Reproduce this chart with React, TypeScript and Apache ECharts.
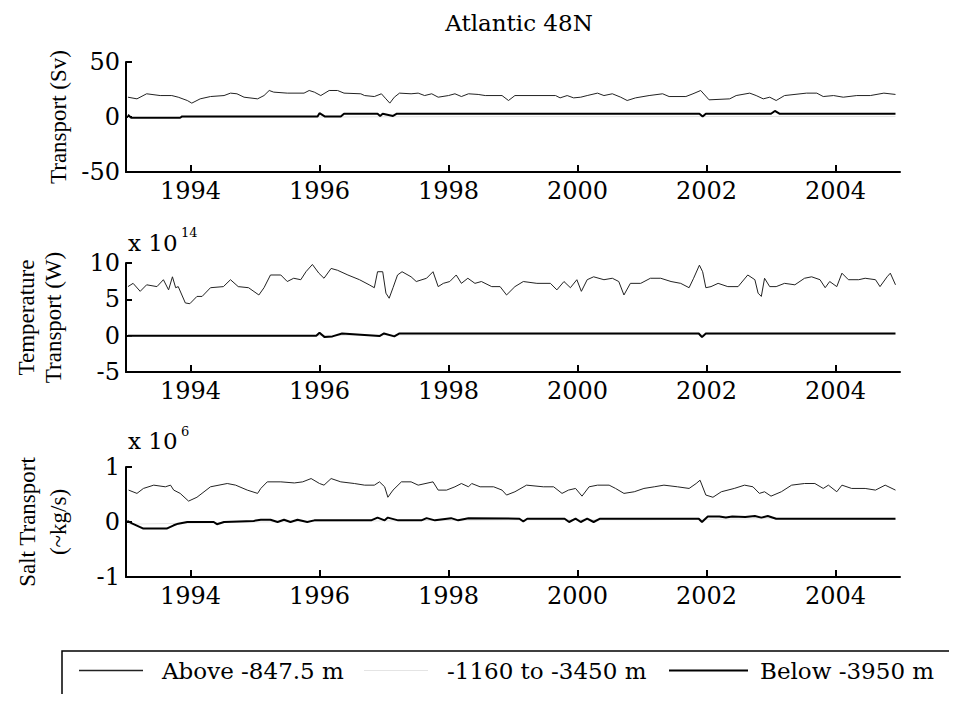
import React, { useEffect, useRef } from "react";
import * as echarts from "echarts";

// ---------- Data ----------
const YEAR_TICKS = [1994, 1996, 1998, 2000, 2002, 2004];
const NAME_ABOVE = "Above -847.5 m";
const NAME_MID = "-1160 to -3450 m";
const NAME_BELOW = "Below -3950 m";

// Panel 1: Transport (Sv)
const volAboveT = [1993.03, 1993.17, 1993.32, 1993.53, 1993.71, 1993.81, 1993.95, 1994.02, 1994.15, 1994.31, 1994.52, 1994.62, 1994.72, 1994.83, 1995.04, 1995.14, 1995.22, 1995.29, 1995.5, 1995.76, 1995.84, 1995.92, 1996.02, 1996.15, 1996.28, 1996.38, 1996.64, 1996.7, 1996.85, 1996.96, 1997.03, 1997.09, 1997.16, 1997.24, 1997.42, 1997.53, 1997.63, 1997.74, 1997.84, 1998.0, 1998.1, 1998.2, 1998.31, 1998.46, 1998.57, 1998.83, 1998.93, 1999.03, 1999.66, 1999.73, 1999.84, 1999.94, 2000.05, 2000.15, 2000.31, 2000.41, 2000.54, 2000.67, 2000.77, 2000.9, 2001.11, 2001.32, 2001.42, 2001.68, 2001.79, 2001.91, 2002.04, 2002.36, 2002.46, 2002.67, 2002.77, 2002.88, 2002.98, 2003.08, 2003.21, 2003.55, 2003.71, 2003.81, 2003.97, 2004.12, 2004.33, 2004.54, 2004.75, 2004.93];
const volAboveV = [18.0, 16.5, 21.1, 19.5, 19.5, 18.0, 15.0, 12.6, 16.5, 18.6, 19.5, 21.7, 21.1, 18.0, 16.5, 19.5, 24.1, 22.6, 21.7, 21.7, 24.1, 22.6, 19.5, 24.1, 24.1, 21.7, 21.1, 19.5, 18.6, 21.1, 16.5, 12.6, 18.0, 21.7, 21.1, 21.7, 19.5, 21.1, 18.0, 19.5, 21.1, 18.6, 21.1, 20.5, 19.5, 19.5, 15.0, 19.5, 19.5, 17.4, 19.5, 17.4, 18.0, 19.5, 21.7, 19.5, 21.1, 18.0, 15.0, 17.4, 19.5, 21.1, 18.6, 18.6, 21.1, 24.1, 15.6, 16.5, 19.5, 21.7, 19.5, 16.5, 18.0, 15.0, 19.5, 21.7, 21.7, 18.6, 19.5, 18.0, 19.5, 19.5, 21.7, 20.5];
const volMidT = [1993.03, 1995.0, 1997.0, 1999.0, 2001.0, 2003.0, 2004.93];
const volMidV = [-0.5, -0.3, 0.2, 0.4, 0.3, 0.5, 0.4];
const volBelowT = [1993.03, 1993.08, 1993.84, 1993.87, 1995.97, 1996.0, 1996.08, 1996.33, 1996.38, 1996.9, 1996.94, 1996.98, 1997.14, 1997.2, 2001.89, 2001.94, 2001.99, 2003.0, 2003.06, 2003.13, 2004.93];
const volBelowV = [2.0, -0.7, -0.7, 0.5, 0.5, 3.5, 0.5, 0.5, 3.0, 3.0, 1.0, 3.0, 1.0, 3.0, 3.0, 0.5, 3.0, 3.0, 5.5, 3.0, 3.0];

// Panel 2: Temperature Transport (x 10^14 W)
const tempAboveT = [1993.03, 1993.11, 1993.22, 1993.32, 1993.48, 1993.58, 1993.66, 1993.72, 1993.77, 1993.81, 1993.92, 1993.99, 1994.1, 1994.18, 1994.31, 1994.51, 1994.62, 1994.74, 1994.9, 1995.06, 1995.14, 1995.24, 1995.4, 1995.5, 1995.6, 1995.71, 1995.79, 1995.89, 1995.99, 1996.07, 1996.18, 1996.28, 1996.44, 1996.62, 1996.77, 1996.85, 1996.9, 1996.98, 1997.03, 1997.08, 1997.14, 1997.21, 1997.28, 1997.42, 1997.5, 1997.66, 1997.76, 1997.84, 1997.92, 1998.02, 1998.12, 1998.2, 1998.3, 1998.41, 1998.51, 1998.67, 1998.8, 1998.9, 1999.03, 1999.16, 1999.37, 1999.58, 1999.68, 1999.79, 1999.89, 1999.99, 2000.06, 2000.15, 2000.25, 2000.41, 2000.54, 2000.64, 2000.72, 2000.82, 2000.98, 2001.13, 2001.29, 2001.45, 2001.6, 2001.73, 2001.8, 2001.89, 2001.94, 2001.99, 2002.07, 2002.18, 2002.33, 2002.49, 2002.64, 2002.75, 2002.8, 2002.85, 2002.9, 2002.98, 2003.08, 2003.21, 2003.37, 2003.52, 2003.63, 2003.76, 2003.84, 2003.91, 2004.02, 2004.1, 2004.2, 2004.36, 2004.46, 2004.62, 2004.69, 2004.8, 2004.85, 2004.93];
const tempAboveV = [6.75, 7.2, 6.1, 7.0, 6.75, 7.7, 6.3, 8.1, 6.6, 6.75, 4.5, 4.4, 5.4, 5.4, 6.6, 6.75, 7.7, 6.75, 6.6, 5.6, 6.6, 8.35, 8.35, 7.45, 7.9, 7.7, 8.8, 9.8, 8.6, 7.9, 9.25, 9.0, 8.35, 7.7, 7.0, 6.6, 8.8, 8.8, 5.85, 5.15, 6.6, 8.35, 8.8, 8.1, 7.45, 7.9, 8.8, 6.75, 7.2, 7.45, 8.35, 7.2, 7.9, 7.2, 7.45, 6.75, 6.75, 5.6, 6.75, 7.45, 7.2, 7.2, 6.3, 7.45, 6.6, 7.7, 6.1, 7.7, 8.1, 7.7, 7.9, 7.45, 5.6, 7.2, 7.2, 7.9, 7.9, 7.45, 7.2, 6.6, 7.9, 9.7, 8.8, 6.6, 6.75, 7.2, 6.75, 6.75, 8.35, 7.7, 5.85, 5.4, 7.9, 6.75, 6.75, 7.2, 7.0, 7.9, 8.1, 7.7, 6.6, 7.45, 6.75, 8.6, 7.7, 7.7, 7.9, 7.7, 6.75, 8.1, 8.6, 7.0];
const tempMidT = [1993.03, 1995.0, 1997.0, 1999.0, 2001.0, 2003.0, 2004.93];
const tempMidV = [-0.05, -0.05, 0.1, 0.15, 0.15, 0.2, 0.2];
const tempBelowT = [1993.03, 1995.95, 1996.0, 1996.08, 1996.2, 1996.35, 1996.93, 1997.0, 1997.16, 1997.24, 2001.88, 2001.93, 2001.99, 2004.93];
const tempBelowV = [0.0, 0.0, 0.4, -0.2, -0.1, 0.3, -0.05, 0.3, -0.1, 0.3, 0.3, -0.2, 0.3, 0.3];

// Panel 3: Salt Transport (x 10^6 ~kg/s)
const saltAboveT = [1993.04, 1993.17, 1993.27, 1993.43, 1993.61, 1993.69, 1993.74, 1993.84, 1993.97, 1994.1, 1994.31, 1994.57, 1994.7, 1994.88, 1995.04, 1995.09, 1995.19, 1995.4, 1995.61, 1995.74, 1995.87, 1996.0, 1996.07, 1996.18, 1996.33, 1996.54, 1996.7, 1996.85, 1996.93, 1997.01, 1997.06, 1997.14, 1997.27, 1997.42, 1997.53, 1997.76, 1997.84, 1997.97, 1998.1, 1998.2, 1998.31, 1998.36, 1998.49, 1998.7, 1998.83, 1998.9, 1999.03, 1999.21, 1999.47, 1999.63, 1999.76, 1999.86, 1999.97, 2000.07, 2000.18, 2000.31, 2000.49, 2000.59, 2000.72, 2000.88, 2001.03, 2001.19, 2001.34, 2001.55, 2001.73, 2001.84, 2001.9, 2001.99, 2002.1, 2002.23, 2002.43, 2002.59, 2002.72, 2002.82, 2002.9, 2003.0, 2003.16, 2003.32, 2003.52, 2003.68, 2003.81, 2003.89, 2004.02, 2004.1, 2004.25, 2004.46, 2004.62, 2004.77, 2004.93];
const saltAboveV = [0.58, 0.52, 0.61, 0.67, 0.64, 0.67, 0.58, 0.52, 0.38, 0.45, 0.64, 0.70, 0.67, 0.58, 0.52, 0.61, 0.73, 0.73, 0.71, 0.73, 0.79, 0.70, 0.67, 0.79, 0.73, 0.70, 0.67, 0.67, 0.73, 0.64, 0.45, 0.58, 0.73, 0.73, 0.67, 0.73, 0.58, 0.58, 0.64, 0.70, 0.64, 0.70, 0.64, 0.64, 0.58, 0.49, 0.55, 0.67, 0.64, 0.64, 0.52, 0.58, 0.61, 0.47, 0.64, 0.67, 0.67, 0.61, 0.52, 0.55, 0.61, 0.64, 0.67, 0.64, 0.61, 0.70, 0.76, 0.49, 0.45, 0.55, 0.61, 0.67, 0.64, 0.52, 0.55, 0.47, 0.55, 0.67, 0.70, 0.70, 0.61, 0.67, 0.55, 0.67, 0.61, 0.61, 0.58, 0.67, 0.58];
const saltMidT = [1993.03, 1995.0, 1997.0, 1999.0, 2001.0, 2003.0, 2004.93];
const saltMidV = [-0.04, 0.0, 0.02, 0.04, 0.04, 0.06, 0.05];
const saltBelowT = [1993.02, 1993.1, 1993.27, 1993.63, 1993.74, 1993.81, 1993.95, 1994.36, 1994.41, 1994.52, 1994.98, 1995.09, 1995.24, 1995.35, 1995.45, 1995.55, 1995.66, 1995.81, 1995.92, 1996.8, 1996.9, 1997.01, 1997.06, 1997.22, 1997.58, 1997.66, 1997.79, 1998.04, 1998.15, 1998.31, 1999.1, 1999.16, 1999.22, 1999.8, 1999.87, 1999.97, 2000.05, 2000.15, 2000.25, 2000.35, 2001.88, 2001.93, 2002.02, 2002.2, 2002.3, 2002.4, 2002.6, 2002.75, 2002.85, 2002.95, 2003.08, 2004.93];
const saltBelowV = [0.02, -0.03, -0.12, -0.12, -0.06, -0.03, 0.0, 0.0, -0.04, 0.0, 0.02, 0.04, 0.04, 0.0, 0.04, 0.0, 0.04, 0.0, 0.03, 0.03, 0.08, 0.03, 0.08, 0.03, 0.03, 0.07, 0.03, 0.07, 0.03, 0.07, 0.06, 0.01, 0.06, 0.06, 0.0, 0.06, 0.0, 0.06, 0.0, 0.06, 0.06, 0.0, 0.1, 0.1, 0.08, 0.1, 0.09, 0.11, 0.08, 0.11, 0.06, 0.06];

// ---------- Chart ----------
const SERIF_H = "DejaVu Serif";
const SERIF_V = "Liberation Serif";

const pairs = (t: number[], v: number[]) => t.map((x, i) => [x, v[i]]);

export default function App() {
  const ref = useRef<HTMLDivElement>(null);

  useEffect(() => {
    if (!ref.current) return;
    const chart = echarts.init(ref.current, null, { renderer: "svg" });

    const grids = [
      { left: 126, right: 57, top: 62, height: 110 },
      { left: 126, right: 57, top: 263, height: 109 },
      { left: 126, right: 57, top: 467, height: 110 },
    ];

    const xAxes = grids.map((_, i) => ({
      type: "value",
      gridIndex: i,
      min: 1993,
      max: 2005,
      axisLine: { show: true, onZero: false, lineStyle: { color: "#000", width: 2 } },
      axisTick: {
        show: true,
        inside: true,
        length: 7,
        customValues: YEAR_TICKS,
        lineStyle: { color: "#000", width: 2 },
      },
      axisLabel: {
        show: true,
        customValues: YEAR_TICKS,
        formatter: (v: number) => String(v),
        fontFamily: SERIF_H,
        fontSize: 24,
        color: "#000",
        margin: 7,
      },
      splitLine: { show: false },
    }));

    const yCommon = {
      nameLocation: "middle",
      nameRotate: 90,
      axisLine: { show: true, lineStyle: { color: "#000", width: 2 } },
      axisTick: { show: true, inside: true, length: 6, lineStyle: { color: "#000", width: 2 } },
      axisLabel: { fontFamily: SERIF_H, fontSize: 24, color: "#000", margin: 6 },
      splitLine: { show: false },
    };

    const yAxes = [
      {
        ...yCommon,
        type: "value",
        gridIndex: 0,
        min: -50,
        max: 50,
        interval: 50,
        name: "Transport (Sv)",
        nameGap: 54,
        nameTextStyle: { fontFamily: SERIF_V, fontSize: 23, color: "#000" },
      },
      {
        ...yCommon,
        type: "value",
        gridIndex: 1,
        min: -5,
        max: 10,
        interval: 5,
        name: "Temperature\nTransport (W)",
        nameGap: 59,
        nameTextStyle: { fontFamily: SERIF_V, fontSize: 23, color: "#000", lineHeight: 27 },
      },
      {
        ...yCommon,
        type: "value",
        gridIndex: 2,
        min: -1,
        max: 1,
        interval: 1,
        name: "Salt Transport\n(~kg/s)",
        nameGap: 52,
        nameTextStyle: { fontFamily: SERIF_V, fontSize: 23, color: "#000", lineHeight: 31 },
      },
    ];

    const aboveStyle = { color: "#222222", width: 1 };
    const midStyle = { color: "#e4e4e4", width: 1 };
    const belowStyle = { color: "#000", width: 2 };

    const mk = (name: string, i: number, data: number[][], ls: any, z: number) => ({
      name,
      type: "line",
      xAxisIndex: i,
      yAxisIndex: i,
      data,
      symbol: "none",
      showSymbol: false,
      lineStyle: ls,
      itemStyle: { color: ls.color },
      z,
    });

    const series = [
      mk(NAME_ABOVE, 0, pairs(volAboveT, volAboveV), aboveStyle, 3),
      mk(NAME_MID, 0, pairs(volMidT, volMidV), midStyle, 2),
      mk(NAME_BELOW, 0, pairs(volBelowT, volBelowV), belowStyle, 4),
      mk(NAME_ABOVE, 1, pairs(tempAboveT, tempAboveV), aboveStyle, 3),
      mk(NAME_MID, 1, pairs(tempMidT, tempMidV), midStyle, 2),
      mk(NAME_BELOW, 1, pairs(tempBelowT, tempBelowV), belowStyle, 4),
      mk(NAME_ABOVE, 2, pairs(saltAboveT, saltAboveV), aboveStyle, 3),
      mk(NAME_MID, 2, pairs(saltMidT, saltMidV), midStyle, 2),
      mk(NAME_BELOW, 2, pairs(saltBelowT, saltBelowV), belowStyle, 4),
    ];

    const legendText = { fontFamily: SERIF_H, fontSize: 23, color: "#000" };
    const legends = [
      { data: [NAME_ABOVE], left: 79, itemWidth: 64, itemHeight: 1.5, pad: 14 },
      { data: [NAME_MID], left: 364, itemWidth: 64, itemHeight: 1, pad: 14 },
      { data: [NAME_BELOW], left: 669, itemWidth: 79, itemHeight: 1.8, pad: 7 },
    ].map((l) => ({
      data: l.data,
      left: l.left,
      top: 659,
      orient: "horizontal",
      padding: 0,
      icon: "rect",
      itemWidth: l.itemWidth,
      itemHeight: l.itemHeight,
      selectedMode: false,
      textStyle: { ...legendText, padding: [0, 0, 0, l.pad] },
    }));

    const expStyle = (text: string, x: number, y: number, size: number) => ({
      type: "text",
      x,
      y,
      style: {
        text,
        fontFamily: SERIF_H,
        fontSize: size,
        fill: "#000",
        align: "left",
        verticalAlign: "middle",
      },
      silent: true,
    });

    chart.setOption({
      animation: false,
      backgroundColor: "#fff",
      title: {
        text: "Atlantic 48N",
        left: 514,
        top: 6,
        textAlign: "center",
        textStyle: { fontFamily: SERIF_H, fontSize: 23, fontWeight: "normal", color: "#000" },
      },
      grid: grids,
      xAxis: xAxes,
      yAxis: yAxes,
      legend: legends,
      series,
      graphic: [
        expStyle("x 10", 128, 243, 23),
        expStyle("14", 181, 232, 13),
        expStyle("x 10", 128, 441, 23),
        expStyle("6", 181, 431, 13),
        {
          type: "rect",
          shape: { x: 62, y: 651, width: 960, height: 46 },
          style: { fill: "none", stroke: "#000", lineWidth: 1.5 },
          silent: true,
        },
      ],
    } as any);

    return () => chart.dispose();
  }, []);

  return <div ref={ref} style={{ width: 957, height: 702, margin: -8 }} />;
}
